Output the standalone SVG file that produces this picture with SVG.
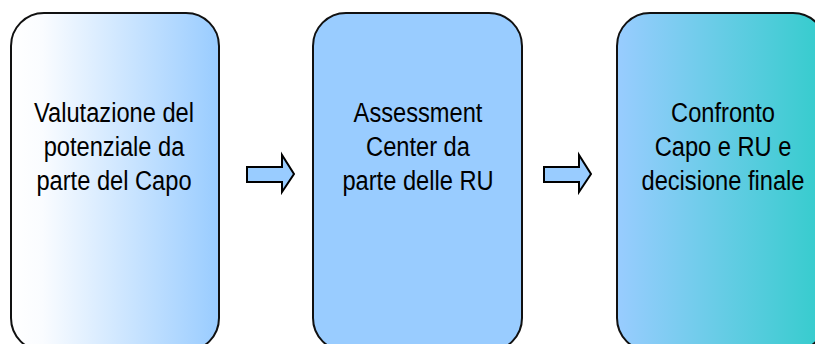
<svg xmlns="http://www.w3.org/2000/svg" width="815" height="344" viewBox="0 0 815 344">
  <defs>
    <linearGradient id="g1" x1="0" y1="0" x2="1" y2="0">
      <stop offset="0" stop-color="#FFFFFF"/>
      <stop offset="0.15" stop-color="#FAFCFF"/>
      <stop offset="1" stop-color="#99CCFF"/>
    </linearGradient>
    <linearGradient id="g3" x1="0" y1="0" x2="1" y2="0">
      <stop offset="0" stop-color="#99CCFF"/>
      <stop offset="1" stop-color="#33CCCC"/>
    </linearGradient>
    <style>
      .box { stroke: #111111; stroke-width: 2; }
      .lbl { font-family: "Liberation Sans", Arial, sans-serif; font-size: 28px; fill: #000000; text-anchor: middle; }
      .arrow { fill: #99CCFF; stroke: #000000; stroke-width: 2; stroke-linejoin: miter; }
    </style>
  </defs>
  <rect width="815" height="344" fill="#FFFFFF"/>

  <g id="node-valutazione">
    <rect class="box" x="11" y="13" width="208" height="338" rx="33" ry="33" fill="url(#g1)"/>
    <g transform="translate(114,0) scale(0.845,1)">
      <text class="lbl" x="0" y="122">Valutazione del</text>
      <text class="lbl" x="0" y="156">potenziale da</text>
      <text class="lbl" x="0" y="190">parte del Capo</text>
    </g>
  </g>

  <g id="node-assessment">
    <rect class="box" x="313" y="13" width="209" height="338" rx="33" ry="33" fill="#99CCFF"/>
    <g transform="translate(418,0) scale(0.845,1)">
      <text class="lbl" x="0" y="122">Assessment</text>
      <text class="lbl" x="0" y="156">Center da</text>
      <text class="lbl" x="0" y="190">parte delle RU</text>
    </g>
  </g>

  <g id="node-confronto">
    <rect class="box" x="617" y="13" width="209" height="338" rx="33" ry="33" fill="url(#g3)"/>
    <g transform="translate(723,0) scale(0.845,1)">
      <text class="lbl" x="0" y="122">Confronto</text>
      <text class="lbl" x="0" y="156">Capo e RU e</text>
      <text class="lbl" x="0" y="190">decisione finale</text>
    </g>
  </g>

  <g id="connectors">
    <polygon class="arrow" points="247,167 282,167 282,155 294,174 282,192 282,182 247,182"/>
    <polygon class="arrow" points="544,167 579,167 579,155 591,174 579,192 579,182 544,182"/>
  </g>
</svg>
